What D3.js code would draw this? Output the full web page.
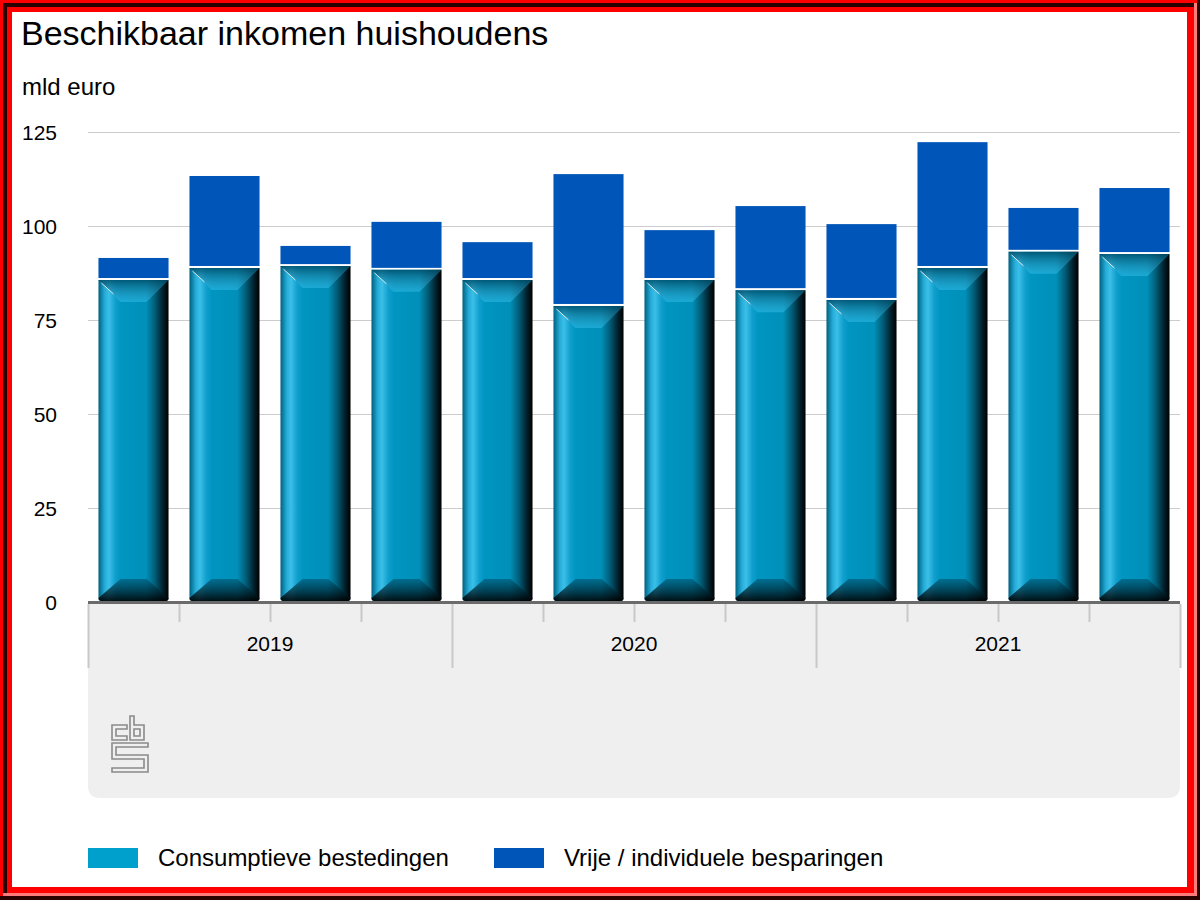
<!DOCTYPE html>
<html>
<head>
<meta charset="utf-8">
<script src="https://cdn.jsdelivr.net/npm/d3@7"></script>
<style>
html,body{margin:0;padding:0;background:#fff;}
svg{display:block;font-family:"Liberation Sans",Arial,sans-serif;}
</style>
</head>
<body>
<svg id="chart" width="1200" height="900"></svg>
<script>
const quarters = ["2019 K1","2019 K2","2019 K3","2019 K4","2020 K1","2020 K2","2020 K3","2020 K4","2021 K1","2021 K2","2021 K3","2021 K4"];
const years = ["2019","2020","2021"];
const consumptie = [85.9, 89.1, 89.6, 88.6, 85.9, 79.0, 85.9, 83.2, 80.6, 89.1, 93.4, 92.8];
const besparingen = [5.6, 24.2, 5.1, 12.5, 9.8, 34.8, 13.0, 22.1, 19.9, 33.2, 11.4, 17.3];
const yTicks = [0, 25, 50, 75, 100, 125];
const seriesNames = ["Consumptieve bestedingen", "Vrije / individuele besparingen"];
const seriesColors = ["#00a0cc", "#0055b8"];

(function(){
const svg = d3.select("#chart");
const W = 1200, H = 900;
const pLeft = 88, pRight = 1180, pTop = 132, pBottom = 602;

// frame
svg.append("rect").attr("x",0).attr("y",0).attr("width",W).attr("height",H).attr("fill","#ff0000");
svg.append("path").attr("d","M3,3 H1197 V7 H7 V897 H3 Z").attr("fill","#2a0000");
svg.append("path").attr("d","M1194,3 H1197 V897 H3 V893 H1194 Z").attr("fill","#ff7a7a");
svg.append("path").attr("d","M1197,0 H1200 V900 H0 V896 H1197 Z").attr("fill","#2a0000");
svg.append("rect").attr("x",12).attr("y",12).attr("width",1175).attr("height",875).attr("fill","#ffffff");

const defs = svg.append("defs");
function lin(id, x2, y2, stops){
  const g = defs.append("linearGradient").attr("id",id).attr("x1",0).attr("y1",0).attr("x2",x2).attr("y2",y2);
  stops.forEach(s=>g.append("stop").attr("offset",s[0]).attr("stop-color",s[1]).attr("stop-opacity",s[2]===undefined?1:s[2]));
}
lin("hgrad",1,0,[[0,"#00607f"],[0.09,"#24acd8"],[0.15,"#3cbfe8"],[0.24,"#109fcd"],[0.32,"#0095c1"],[0.68,"#0090b9"],[0.8,"#005f7a"],[0.92,"#00202c"],[1,"#000000"]]);
lin("topgrad",0,1,[[0,"#004f6b",0.85],[1,"#3cc4f0",0.45]]);
lin("botgrad",0,1,[[0,"#005470",0.6],[1,"#000000",0.9]]);

// gray panel
const panelBottom = 798, r = 12;
svg.append("path")
  .attr("d",`M${pLeft},${pBottom} H${pRight} V${panelBottom-r} Q${pRight},${panelBottom} ${pRight-r},${panelBottom} H${pLeft+r} Q${pLeft},${panelBottom} ${pLeft},${panelBottom-r} Z`)
  .attr("fill","#efefef");

const x = d3.scaleBand().domain(quarters).range([pLeft,pRight]).paddingInner(0.23).paddingOuter(0.115);
const y = d3.scaleLinear().domain([0,125]).range([pBottom,pTop]);

// title
svg.append("text").attr("x",21).attr("y",45).attr("font-size",34).attr("fill","#000").text("Beschikbaar inkomen huishoudens");
svg.append("text").attr("x",22).attr("y",95).attr("font-size",24).attr("fill","#000").text("mld euro");

// y axis labels
const yAxis = d3.axisLeft(y).tickValues(yTicks).tickSize(0).tickPadding(0);
const gy = svg.append("g").attr("transform",`translate(57,0)`).call(yAxis);
gy.select(".domain").remove();
gy.selectAll("text").attr("font-size",21).attr("fill","#000").attr("font-family","Liberation Sans, Arial, sans-serif").attr("dy","0.36em");
svg.append("g").selectAll("line").data(yTicks.filter(d=>d>0)).join("line")
  .attr("x1",pLeft).attr("x2",pRight).attr("y1",d=>Math.round(y(d))+0.5).attr("y2",d=>Math.round(y(d))+0.5)
  .attr("stroke","#cccccc").attr("stroke-width",1);

// bars
const bw = x.bandwidth();
const b = 22;
const bars = svg.append("g");
quarters.forEach((q,i)=>{
  const x0 = x(q);
  const yc = y(consumptie[i]);
  const yt = y(consumptie[i]+besparingen[i]);
  const y0 = y(0) - 1;
  const g = bars.append("g");
  g.append("rect").attr("x",x0).attr("y",yt).attr("width",bw).attr("height",yc-yt-1).attr("fill",seriesColors[1]);
  const ty = yc + 1;
  const rr = 3;
  g.append("path")
    .attr("d",`M${x0},${ty} H${x0+bw} V${y0-rr} Q${x0+bw},${y0} ${x0+bw-rr},${y0} H${x0+rr} Q${x0},${y0} ${x0},${y0-rr} Z`)
    .attr("fill","url(#hgrad)");
  g.append("path")
    .attr("d",`M${x0},${ty} H${x0+bw} L${x0+bw-b},${ty+b} H${x0+b} Z`)
    .attr("fill","url(#topgrad)");
  g.append("path")
    .attr("d",`M${x0+b},${y0-b} H${x0+bw-b} L${x0+bw},${y0-rr} Q${x0+bw},${y0} ${x0+bw-rr},${y0} H${x0+rr} Q${x0},${y0} ${x0},${y0-rr} Z`)
    .attr("fill","url(#botgrad)");
  g.append("line").attr("x1",x0+3).attr("y1",ty+3).attr("x2",x0+15).attr("y2",ty+14)
    .attr("stroke","#ffffff").attr("stroke-width",1).attr("opacity",0.85);
});

// baseline
svg.append("rect").attr("x",pLeft).attr("y",pBottom-1).attr("width",pRight-pLeft).attr("height",3).attr("fill","#6b6b6b");

// x ticks
const bounds = d3.range(0,quarters.length+1).map(i=> i===quarters.length ? pRight : x(quarters[i]) - x.step()*x.paddingInner()/2);
svg.append("g").selectAll("line").data(bounds).join("line")
  .attr("x1",d=>Math.round(d)+0.5).attr("x2",d=>Math.round(d)+0.5)
  .attr("y1",pBottom+2)
  .attr("y2",(d,i)=> i%4===0 ? 668 : 622)
  .attr("stroke","#c8c8c8").attr("stroke-width",2);

// year labels
svg.append("g").selectAll("text").data(years).join("text")
  .attr("x",(d,i)=> (x(quarters[i*4]) + x(quarters[i*4+3]) + bw)/2)
  .attr("y",651).attr("text-anchor","middle").attr("font-size",21).attr("fill","#000")
  .text(d=>d);

// cbs logo
const logo = svg.append("g").attr("fill","none").attr("stroke","#8a8a8a").attr("stroke-width",1.6);
logo.append("path").attr("d","M127,725 H112 V740 H127 V736 H116 V729 H127 Z");
logo.append("path").attr("d","M130,716 H134 V725 H144 V740 H130 Z M134,729 H140 V736 H134 Z");
logo.append("path").attr("d","M112,743 H148 V747 H116 V755 H148 V772 H112 V768 H144 V759 H112 Z");

// legend
const lg = svg.append("g");
const lx = [88, 494];
seriesNames.forEach((n,i)=>{
  lg.append("rect").attr("x",lx[i]).attr("y",848).attr("width",50).attr("height",20).attr("fill",seriesColors[i]);
  lg.append("text").attr("x",lx[i]+70).attr("y",866).attr("font-size",24).attr("fill","#000").text(n);
});
})();
</script>
</body>
</html>
